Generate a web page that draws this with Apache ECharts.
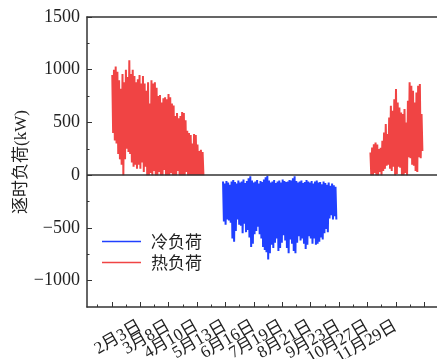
<!DOCTYPE html>
<html>
<head>
<meta charset="utf-8">
<script src="https://cdn.jsdelivr.net/npm/echarts@6/dist/echarts.min.js"></script>
<style>
  html, body { margin: 0; padding: 0; background: #fff; }
  #chart { width: 437px; height: 359px; }
</style>
</head>
<body>
<div id="chart"></div>
<script>
// tick positions are in hours, labels as printed on the original axis
const majorHours = [0, 800, 1600, 2400, 3200, 4000, 4800, 5600, 6400, 7200, 8000, 8800];
const minorHours = [-400, 400, 1200, 2000, 2800, 3600, 4400, 5200, 6000, 6800, 7600, 8400, 9200];
const labelHours = [800, 1600, 2400, 3200, 4000, 4800, 5600, 6400, 7200, 8000];
const tickLabels = ['2月3日', '3月8日', '4月10日', '5月13日', '6月16日', '7月19日', '8月21日', '9月23日', '10月27日', '11月29日'];
const yMajor = [-1000, -500, 0, 500, 1000, 1500];
const yMinor = [-750, -250, 250, 750, 1250];

// daily high / low envelope, one pair every 2 days
const stepDays = 2;
const heat1StartDay = 0;
const heat1High = [950, 1000, 1030, 980, 900, 820, 960, 880, 1000, 930, 1090, 960, 1000, 940, 880, 910, 950, 870, 940, 870,
  800, 880, 680, 900, 870, 880, 830, 750, 760, 690, 730, 740, 720, 770, 740, 680, 660, 560, 590, 540,
  560, 600, 590, 520, 420, 400, 380, 300, 390, 380, 290, 230, 240, 220];
const heat1Low = [400, 330, 300, 200, 150, 100, 0, 150, 250, 220, 200, 120, 80, 100, 60, 100, 60, 120, 30, 80,
  0, 0, 20, 0, 40, 0, 0, 30, 0, 0, 50, 0, 0, 0, 20, 0, 0, 0, 40, 0,
  0, 0, 0, 30, 0, 0, 0, 0, 0, 0, 0, 0, 0, 0];

const coolStartDay = 130;
const coolHigh = [-60, -80, -55, -70, -90, -60, -45, -65, -80, -50, -70, -60, -40, -75, -55, -30, -10, -50, -70, -60,
  -45, -80, -55, -65, -40, -20, -5, -50, -70, -60, -45, -75, -60, -50, -70, -40, -55, -65, -60, -45,
  -50, -30, -10, -55, -70, -60, -50, -75, -65, -45, -60, -70, -55, -80, -60, -50, -70, -65, -85, -60,
  -75, -90, -70, -100, -80, -95, -110];
const coolLow = [-440, -470, -420, -430, -450, -600, -630, -530, -420, -470, -480, -550, -460, -540, -520, -590, -680, -650, -560, -530,
  -490, -560, -600, -680, -710, -730, -800, -740, -660, -690, -640, -600, -720, -690, -640, -570, -620, -690, -740, -610,
  -650, -720, -740, -640, -580, -620, -600, -650, -700, -660, -580, -600, -650, -600, -660, -650, -630, -590, -610, -550,
  -510, -540, -410, -380, -420, -390, -420];

const heat2StartDay = 303;
const heat2High = [215, 263, 294, 310, 290, 247, 260, 326, 405, 484, 390, 547, 658, 611, 721, 816, 690, 642, 595, 580,
  627, 500, 706, 880, 848, 800, 690, 785, 848, 864, 580];
const heat2Low = [0, 0, 20, 0, 0, 30, 0, 40, 60, 90, 100, 60, 40, 80, 0, 10, 80, 70, 0, 0,
  20, 0, 170, 160, 100, 90, 40, 30, 170, 160, 230];

const red = '#f04444';
const blue = '#2040ff';
const font = "'Liberation Serif', 'Noto Sans CJK SC', serif";
const cjkFont = "'Noto Sans CJK SC', 'Liberation Serif', sans-serif";

function zigzag(startDay, highs, lows) {
  const pts = [];
  for (let i = 0; i < highs.length; i++) {
    const h = (startDay + i * stepDays) * 24;
    pts.push([h + 12, highs[i]]);
    pts.push([h + 36, lows[i]]);
  }
  return pts;
}

// the rotated labels overlap each other, so they are split over two axes
// (otherwise echarts drops some of them)
function dateLabel(v) {
  const i = labelHours.indexOf(Math.round(Number(v)));
  return i >= 0 ? tickLabels[i] : '';
}
const labelStyle = {
  showMinLabel: true, showMaxLabel: true, hideOverlap: false,
  formatter: dateLabel, rotate: 30, margin: 18,
  fontFamily: font, fontSize: 17, color: '#222'
};

const chart = echarts.init(document.getElementById('chart'), null, { renderer: 'canvas' });

const xMin = -700, xMax = 9300;
const yMin = -1250, yMax = 1500;

chart.setOption({
  animation: false,
  backgroundColor: '#fff',
  grid: [
    { left: 87, right: -5, top: 17, bottom: 52, containLabel: false, outerBoundsMode: 'none' },
    { left: 87, right: -5, top: 17, bottom: 52, containLabel: false, outerBoundsMode: 'none' }
  ],
  legend: {
    data: ['冷负荷', '热负荷'],
    orient: 'vertical',
    left: 97,
    top: 228,
    icon: 'rect',
    itemWidth: 39,
    itemHeight: 1.5,
    itemGap: 4,
    textStyle: { fontFamily: cjkFont, fontSize: 17, color: '#222', padding: [0, 0, 0, 5] }
  },
  xAxis: [
    {
      type: 'value', gridIndex: 0, position: 'bottom', min: xMin, max: xMax,
      splitLine: { show: false },
      axisLine: { show: true, onZero: false, lineStyle: { color: '#333', width: 1.5 } },
      axisTick: { show: true, inside: true, length: 5, customValues: majorHours, lineStyle: { color: '#333' } },
      axisLabel: Object.assign({ customValues: labelHours.filter((h, i) => i % 2 === 0) }, labelStyle)
    },
    {
      type: 'value', gridIndex: 0, position: 'top', min: xMin, max: xMax,
      splitLine: { show: false },
      axisLine: { show: true, onZero: false, lineStyle: { color: '#333', width: 1.5 } },
      axisTick: { show: false }, axisLabel: { show: false }
    },
    {
      type: 'value', gridIndex: 1, position: 'bottom', min: xMin, max: xMax,
      splitLine: { show: false },
      axisLine: { show: false, onZero: false },
      axisTick: { show: true, inside: true, length: 2.5, customValues: minorHours, lineStyle: { color: '#333' } },
      axisLabel: Object.assign({ customValues: labelHours.filter((h, i) => i % 2 === 1) }, labelStyle)
    }
  ],
  yAxis: [
    {
      type: 'value', gridIndex: 0, position: 'left', min: yMin, max: yMax,
      splitLine: { show: false },
      axisLine: { show: true, onZero: false, lineStyle: { color: '#333', width: 1.5 } },
      axisTick: { show: true, inside: true, length: 5, customValues: yMajor, lineStyle: { color: '#333' } },
      axisLabel: {
        customValues: yMajor, margin: 7,
        showMinLabel: true, showMaxLabel: true, hideOverlap: false,
        formatter: function (v) { return v < 0 ? '\u2212' + Math.abs(v) : String(v); },
        fontFamily: font, fontSize: 18, color: '#222'
      },
      name: '逐时负荷(kW)', nameLocation: 'middle', nameRotate: 90, nameGap: 57, nameMoveOverlap: false,
      nameTextStyle: { fontFamily: font, fontSize: 17, color: '#222' }
    },
    {
      type: 'value', gridIndex: 1, position: 'left', min: yMin, max: yMax,
      splitLine: { show: false },
      axisLine: { show: false, onZero: false },
      axisTick: { show: true, inside: true, length: 2.5, customValues: yMinor, lineStyle: { color: '#333' } },
      axisLabel: { show: false }
    }
  ],
  series: [
    {
      name: '冷负荷', type: 'line', xAxisIndex: 0, yAxisIndex: 0,
      data: zigzag(coolStartDay, coolHigh, coolLow),
      symbol: 'none', lineStyle: { color: blue, width: 2 }, itemStyle: { color: blue }
    },
    {
      name: '热负荷', type: 'line', xAxisIndex: 0, yAxisIndex: 0,
      data: zigzag(heat1StartDay, heat1High, heat1Low),
      symbol: 'none', lineStyle: { color: red, width: 2 }, itemStyle: { color: red }
    },
    {
      name: '热负荷', type: 'line', xAxisIndex: 0, yAxisIndex: 0,
      data: zigzag(heat2StartDay, heat2High, heat2Low),
      symbol: 'none', lineStyle: { color: red, width: 2 }, itemStyle: { color: red },
      markLine: {
        silent: true, symbol: ['none', 'none'], label: { show: false },
        lineStyle: { color: '#333', width: 1.5, type: 'solid' },
        data: [{ yAxis: 0 }]
      }
    }
  ]
});
</script>
</body>
</html>
